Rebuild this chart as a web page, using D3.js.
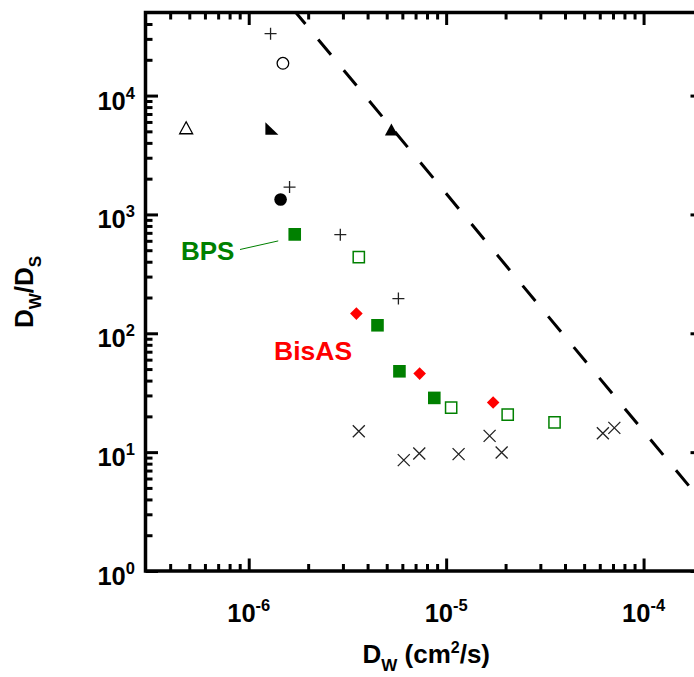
<!DOCTYPE html>
<html>
<head>
<meta charset="utf-8">
<script src="https://cdn.jsdelivr.net/npm/d3@7"></script>
<style>
  html, body { margin: 0; padding: 0; background: #fff; }
  svg { display: block; }
  text { font-family: "Liberation Sans", Arial, sans-serif; font-weight: bold; }
</style>
</head>
<body>
<svg id="chart" width="694" height="677"></svg>
<script>
// ---- data: water diffusivity D_W (cm^2/s) vs. ratio D_W / D_S ----
const plusPoints      = [[1.29e-6, 33200], [1.61e-6, 1700], [2.91e-6, 675], [5.73e-6, 196]];
const openCircle      = [[1.49e-6, 18700]];
const filledCircle    = [[1.45e-6, 1337]];
const openTriangle    = [[4.82e-7, 5310]];
const halfTriangle    = [[1.31e-6, 5250]];
const filledTriangle  = [[5.28e-6, 5130]];
const bpsFilled       = [[1.71e-6, 679], [4.49e-6, 116.8], [5.80e-6, 47.9], [8.71e-6, 28.6]];
const bpsOpen         = [[3.61e-6, 438], [1.06e-5, 23.7], [2.05e-5, 20.7], [3.54e-5, 17.8]];
const bisAS           = [[3.51e-6, 146.5], [7.34e-6, 45.8], [1.73e-5, 26.2]];
const crossPoints     = [[3.61e-6, 15.0], [6.10e-6, 8.57], [7.31e-6, 9.75], [1.156e-5, 9.62],
                         [1.66e-5, 13.7], [1.91e-5, 9.94], [6.22e-5, 14.4], [7.11e-5, 16.0]];
// dashed guide line (slope -2 on log-log axes), given by its two end points
const guideX = [1.732e-6, 2e-4];
const guideY = [5.0e4, 3.75];

const xMajorTicks = [1e-6, 1e-5, 1e-4];
const xTickExp    = ["-6", "-5", "-4"];
const yMajorTicks = [1, 10, 100, 1000, 10000];
const yTickExp    = ["0", "1", "2", "3", "4"];

const GREEN = "#008000", RED = "#ff0000", INK = "#000";

// ---- layout ----
const svg = d3.select("#chart");
const L = 145.5, R = 703, T = 12.5, B = 571;
const x = d3.scaleLog().domain([3e-7, 2e-4]).range([L, R]);
const y = d3.scaleLog().domain([1, 5e4]).range([B, T]);

const isMajor = v => Math.abs(Math.log10(v) - Math.round(Math.log10(v))) < 1e-9;
const inside = (s, v) => { const d = s.domain(); return v > d[0] * 1.0001 && v < d[1] / 1.0001; };
const xMinor = x.ticks().filter(v => !isMajor(v) && inside(x, v));
const yMinor = y.ticks().filter(v => !isMajor(v) && inside(y, v));

const clipId = "plotClip";
svg.append("defs").append("clipPath").attr("id", clipId)
  .append("rect").attr("x", L).attr("y", T).attr("width", R - L).attr("height", B - T);

// ---- guide line ----
const line = d3.line().x(d => x(d[0])).y(d => y(d[1]));
svg.append("path")
  .attr("clip-path", `url(#${clipId})`)
  .attr("d", line(d3.zip(guideX, guideY)))
  .attr("fill", "none").attr("stroke", INK).attr("stroke-width", 3)
  .attr("stroke-dasharray", "20,20").attr("stroke-dashoffset", 5);

// ---- axes (ticks point inward) ----
const tickW = 3, majorLen = 12.5, minorLen = 7;
function drawAxis(axisGen, translate, vals, len) {
  const g = svg.append("g").attr("transform", translate)
    .call(axisGen.tickValues(vals).tickSize(len).tickFormat(""));
  g.select(".domain").remove();
  g.selectAll(".tick line").attr("stroke", INK).attr("stroke-width", tickW);
}
drawAxis(d3.axisBottom(x), `translate(0,${B})`, xMajorTicks, -majorLen);
drawAxis(d3.axisBottom(x), `translate(0,${B})`, xMinor, -minorLen);
drawAxis(d3.axisTop(x), `translate(0,${T})`, xMajorTicks, -majorLen);
drawAxis(d3.axisTop(x), `translate(0,${T})`, xMinor, -minorLen);
drawAxis(d3.axisLeft(y), `translate(${L},0)`, yMajorTicks, -majorLen);
drawAxis(d3.axisLeft(y), `translate(${L},0)`, yMinor, -minorLen);
drawAxis(d3.axisRight(y), `translate(${R},0)`, yMajorTicks, -majorLen);

svg.append("rect").attr("x", L).attr("y", T).attr("width", R - L).attr("height", B - T)
  .attr("fill", "none").attr("stroke", INK).attr("stroke-width", 3.5);

// ---- tick labels ----
const tickFont = 25.5, supFont = 16.5;
xMajorTicks.forEach((v, i) => {
  const t = svg.append("text").attr("x", x(v)).attr("y", 622)
    .attr("text-anchor", "middle").attr("font-size", tickFont).attr("fill", INK);
  t.append("tspan").text("10");
  t.append("tspan").attr("font-size", supFont).attr("dy", -11).text(xTickExp[i]);
});
yMajorTicks.forEach((v, i) => {
  const t = svg.append("text").attr("x", 135).attr("y", y(v) + 14)
    .attr("text-anchor", "end").attr("font-size", tickFont).attr("fill", INK);
  t.append("tspan").text("10");
  t.append("tspan").attr("font-size", supFont).attr("dy", -11).text(yTickExp[i]);
});

// ---- axis titles ----
const xt = svg.append("text").attr("x", (L + R) / 2 + 2).attr("y", 663)
  .attr("text-anchor", "middle").attr("font-size", 26).attr("fill", INK);
xt.append("tspan").text("D");
xt.append("tspan").attr("font-size", 17).attr("dy", 8).text("W");
xt.append("tspan").attr("dy", -8).text(" (cm");
xt.append("tspan").attr("font-size", 16).attr("dy", -10).text("2");
xt.append("tspan").attr("dy", 10).text("/s)");

const yt = svg.append("text").attr("transform", "translate(33,292) rotate(-90)")
  .attr("text-anchor", "middle").attr("font-size", 26).attr("fill", INK);
yt.append("tspan").text("D");
yt.append("tspan").attr("font-size", 17).attr("dy", 8).text("W");
yt.append("tspan").attr("dy", -8).text("/D");
yt.append("tspan").attr("font-size", 17).attr("dy", 8).text("S");

// ---- markers ----
const plot = svg.append("g").attr("clip-path", `url(#${clipId})`);
const px = d => x(d[0]), py = d => y(d[1]);

function pathMarks(data, pathFn, fill, stroke, sw) {
  plot.append("g").selectAll("path").data(data).join("path")
    .attr("d", d => pathFn(px(d), py(d)))
    .attr("fill", fill).attr("stroke", stroke).attr("stroke-width", sw);
}
const plusPath  = (cx, cy, h = 6) => `M${cx - h},${cy}H${cx + h}M${cx},${cy - h}V${cy + h}`;
const crossPath = (cx, cy, h = 6) => `M${cx - h},${cy - h}L${cx + h},${cy + h}M${cx - h},${cy + h}L${cx + h},${cy - h}`;
const triPath   = (cx, cy) => `M${cx},${cy - 6.5}L${cx + 6.5},${cy + 5.5}L${cx - 6.5},${cy + 5.5}Z`;
const halfTri   = (cx, cy) => `M${cx - 6.5},${cy - 6.5}L${cx - 6.5},${cy + 6}L${cx + 6.5},${cy + 6}Z`;
const square    = (cx, cy, h) => `M${cx - h},${cy - h}H${cx + h}V${cy + h}H${cx - h}Z`;
const diamond   = (cx, cy, h = 6.3) => `M${cx},${cy - h}L${cx + h},${cy}L${cx},${cy + h}L${cx - h},${cy}Z`;

pathMarks(plusPoints, plusPath, "none", "#222", 1.3);
pathMarks(crossPoints, crossPath, "none", "#222", 1.3);
pathMarks(openTriangle, triPath, "none", INK, 1.3);
pathMarks(filledTriangle, triPath, INK, "none", 0);
pathMarks(halfTriangle, halfTri, INK, "none", 0);
plot.append("g").selectAll("circle").data(openCircle).join("circle")
  .attr("cx", px).attr("cy", py).attr("r", 5.8)
  .attr("fill", "none").attr("stroke", INK).attr("stroke-width", 1.3);
plot.append("g").selectAll("circle").data(filledCircle).join("circle")
  .attr("cx", px).attr("cy", py).attr("r", 6.3).attr("fill", INK);
pathMarks(bpsOpen, (cx, cy) => square(cx, cy, 5.6), "none", GREEN, 1.5);
pathMarks(bpsFilled, (cx, cy) => square(cx, cy, 6.3), GREEN, "none", 0);
pathMarks(bisAS, diamond, RED, "none", 0);

// ---- series labels ----
const bp = bpsFilled[0];
svg.append("line")
  .attr("x1", 240).attr("y1", 249.5)
  .attr("x2", x(bp[0]) - 16.5).attr("y2", y(bp[1]) + 6.5)
  .attr("stroke", GREEN).attr("stroke-width", 1);
svg.append("text").attr("x", 181).attr("y", 260).attr("font-size", 26)
  .attr("fill", GREEN).text("BPS");
svg.append("text").attr("x", 274).attr("y", 360).attr("font-size", 26.5)
  .attr("fill", RED).text("BisAS");
</script>
</body>
</html>
